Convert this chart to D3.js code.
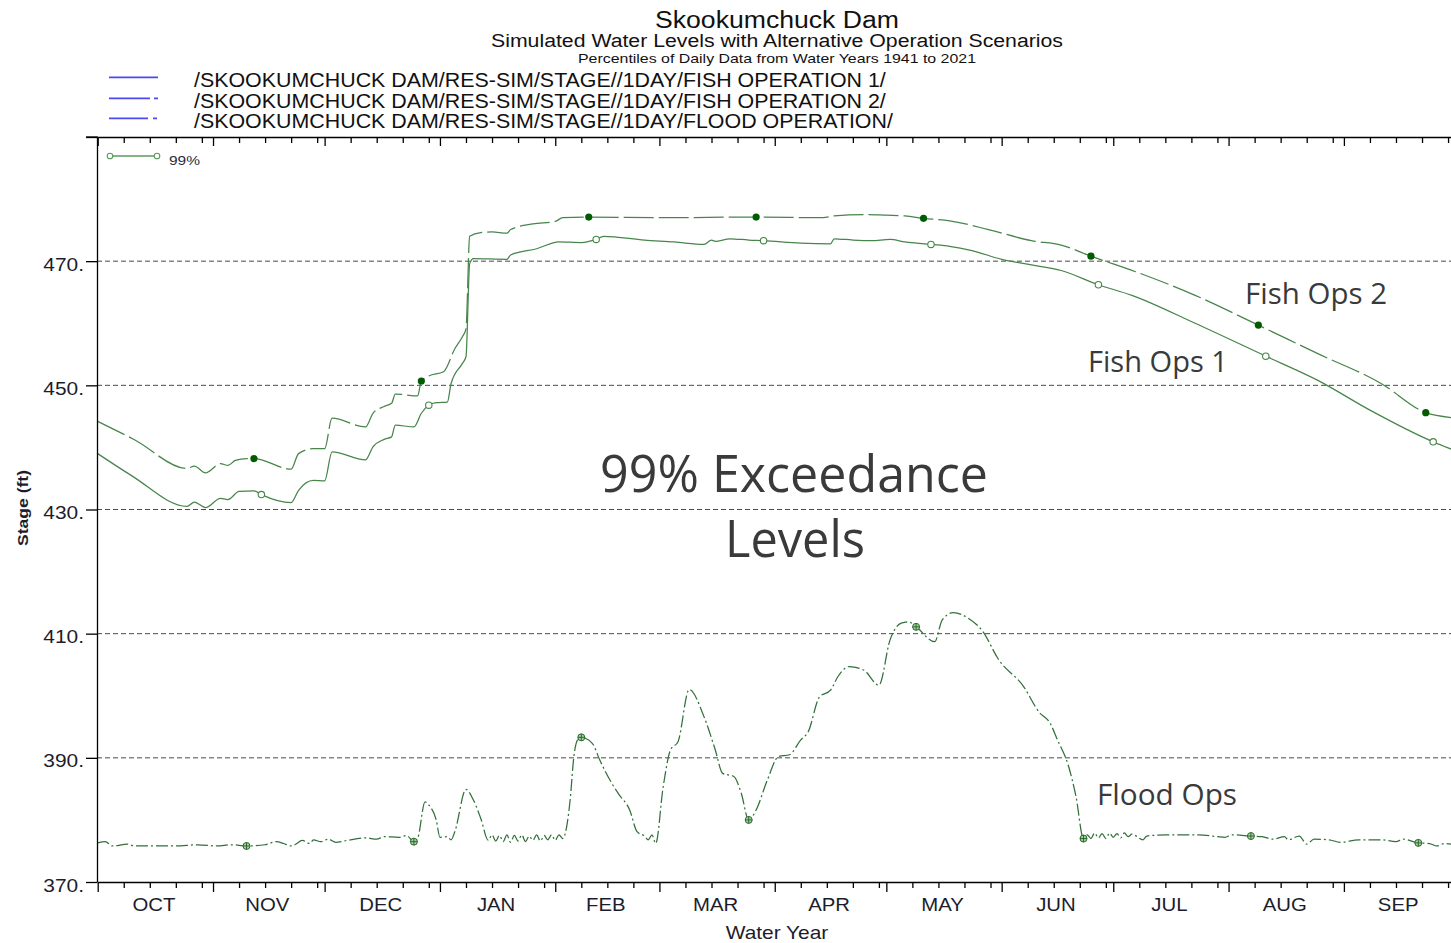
<!DOCTYPE html>
<html>
<head>
<meta charset="utf-8">
<script src="https://cdn.jsdelivr.net/npm/d3@7"></script>
<style>
  html, body { margin: 0; padding: 0; background: #fff; }
  svg { display: block; }
</style>
</head>
<body>
<div id="chart"></div>
<script>
// ---- data (day of water year from Oct 1, stage in ft) ----
const monthLabels = ['OCT', 'NOV', 'DEC', 'JAN', 'FEB', 'MAR', 'APR', 'MAY', 'JUN', 'JUL', 'AUG', 'SEP'];
const monthStartDays = [0, 31, 61, 92, 123, 151, 182, 212, 243, 273, 304, 335, 365];
const yTicks = [370, 390, 410, 430, 450, 470, 490];
const gridValues = [390, 410, 430, 450, 470];

const legendLabels = [
  '/SKOOKUMCHUCK DAM/RES-SIM/STAGE//1DAY/FISH OPERATION 1/',
  '/SKOOKUMCHUCK DAM/RES-SIM/STAGE//1DAY/FISH OPERATION 2/',
  '/SKOOKUMCHUCK DAM/RES-SIM/STAGE//1DAY/FLOOD OPERATION/'
];

const fishOps1 = [[0,439.0],[9,435.5],[24,430.5],[26,431.2],[29,430.3],[33,431.8],[35,431.6],[38,432.9],[42,433.0],[44,432.4],[52,431.1],[54,433.1],[58,434.7],[61,434.6],[63,439.3],[72,438.0],[74,440.1],[77,441.3],[79,441.7],[80,443.6],[85,443.3],[87,445.5],[89,446.8],[91,447.2],[94,447.3],[95,450.3],[98,453.5],[99,454.6],[100,469.6],[101,470.4],[110,470.3],[111,471.0],[118,472.0],[124,473.1],[130,473.0],[134,473.5],[136,474.0],[147,473.4],[155,473.1],[163,472.7],[165,473.4],[166,473.2],[170,473.6],[175,473.4],[179,473.3],[189,472.9],[197,472.8],[198,473.6],[203,473.4],[208,473.3],[213,473.5],[217,473.1],[224,472.7],[229,472.4],[235,471.7],[243,470.3],[251,469.4],[259,468.5],[269,466.2],[278,464.5],[295,460.0],[314,454.7],[328,450.8],[342,446.0],[359,440.9],[364,439.7]];

const fishOps2 = [[0,444.2],[10,441.2],[24,436.6],[26,437.0],[29,435.9],[33,437.4],[35,437.1],[37,437.9],[40,438.2],[42,438.2],[52,436.5],[54,439.0],[58,439.8],[61,439.8],[63,444.7],[72,443.3],[74,445.5],[77,446.6],[79,447.1],[80,448.6],[86,448.3],[87,450.7],[89,451.5],[93,452.2],[96,455.9],[98,457.8],[99,459.1],[100,474.0],[103,474.6],[106,474.7],[110,474.5],[111,475.1],[117,476.0],[123,476.4],[125,477.0],[132,477.1],[151,477.0],[177,477.1],[195,477.0],[198,477.3],[206,477.5],[212,477.4],[217,477.3],[222,476.9],[229,476.5],[240,475.0],[251,473.3],[259,472.6],[267,470.8],[279,468.3],[295,464.5],[312,459.7],[328,455.1],[345,450.3],[357,445.6],[364,444.8]];

const floodOps = [[0,376.3],[2,376.5],[4,375.8],[8,376.1],[10,375.8],[21,375.8],[27,376.0],[32,375.8],[36,376.0],[40,375.8],[45,376.0],[48,376.5],[50,376.2],[52,375.8],[53,376.0],[55,376.7],[57,376.2],[58,376.8],[60,376.5],[62,376.9],[64,376.4],[67,376.7],[72,377.1],[75,376.9],[77,377.3],[81,377.2],[83,377.5],[85,376.5],[86,377.0],[88,382.9],[89,382.4],[91,380.0],[92,377.2],[94,377.3],[95,376.8],[96,378.1],[99,384.9],[101,383.2],[103,380.2],[105,376.7],[106,377.6],[107,376.6],[108,377.5],[109,376.5],[110,377.6],[111,376.4],[112,377.5],[113,376.6],[114,377.6],[115,376.5],[116,377.4],[117,376.7],[118,377.6],[119,376.6],[120,377.5],[121,376.8],[122,377.6],[123,376.7],[124,377.6],[125,377.0],[127,383.2],[128,390.2],[129,392.9],[130,393.3],[133,392.3],[135,389.6],[138,386.1],[140,384.2],[143,381.6],[145,378.1],[147,377.4],[148,376.8],[149,377.6],[150,376.2],[152,385.3],[154,391.3],[156,392.6],[159,401.0],[163,396.6],[166,391.3],[168,387.5],[171,387.0],[173,384.3],[175,380.0],[177,381.6],[180,386.4],[183,390.2],[186,390.5],[189,392.9],[191,394.2],[194,399.8],[197,400.9],[199,403.1],[202,404.7],[206,404.1],[210,401.7],[213,409.0],[216,411.7],[218,411.9],[220,411.1],[225,408.7],[227,412.2],[230,413.4],[234,412.5],[238,410.3],[242,406.0],[249,401.4],[253,397.4],[256,395.6],[258,392.9],[261,388.6],[263,383.7],[265,377.0],[266,377.6],[267,377.0],[268,377.9],[269,377.1],[270,377.8],[271,377.0],[272,377.9],[273,377.2],[274,377.8],[275,377.1],[276,377.9],[277,377.3],[278,377.7],[281,376.8],[282,377.4],[287,377.6],[296,377.6],[301,377.3],[303,377.2],[305,377.6],[310,377.4],[313,377.3],[316,376.9],[319,377.3],[320,376.8],[323,377.4],[325,376.1],[327,376.9],[331,376.8],[334,376.4],[339,376.8],[345,376.8],[349,376.5],[351,376.9],[355,376.3],[358,376.2],[360,375.8],[362,376.2],[364,376.1]];

const fish1MarkerDays = [44, 89, 134, 179, 224, 269, 314, 359];
const fish2MarkerDays = [42, 87, 132, 177, 222, 267, 312, 357];
const floodMarkerDays = [40, 85, 130, 175, 220, 265, 310, 355];

// ---- setup ----
const W = 1451, H = 943;
const font = '"Liberation Sans", Arial, sans-serif';
const noteFont = '"Open Sans", "Noto Sans", sans-serif';
const green = '#47854a';
const dark = '#005c00';
const blue = '#4a4af2';

const svg = d3.select('#chart').append('svg')
  .attr('width', W).attr('height', H)
  .style('background', '#fff');

const x = d3.scaleLinear().domain([0, 365]).range([97.7, 1455.5]);
const y = d3.scaleLinear().domain([370, 490]).range([882, 137]);

// stretch text horizontally (reference text is wider than Arial)
function stretch(sel, k) {
  sel.each(function () {
    const w = this.getComputedTextLength();
    this.setAttribute('textLength', w * k);
    this.setAttribute('lengthAdjust', 'spacingAndGlyphs');
  });
}
function fit(sel, w) {
  sel.attr('textLength', w).attr('lengthAdjust', 'spacingAndGlyphs');
}

// ---- titles ----
const titles = [
  { t: 'Skookumchuck Dam', size: 23, yb: 28, w: 244 },
  { t: 'Simulated Water Levels with Alternative Operation Scenarios', size: 18, yb: 47, w: 572 },
  { t: 'Percentiles of Daily Data from Water Years 1941 to 2021', size: 13, yb: 62.5, w: 398 }
];
titles.forEach(d => {
  svg.append('text')
    .attr('x', 777).attr('y', d.yb)
    .attr('text-anchor', 'middle')
    .attr('font-family', font).attr('font-size', d.size)
    .attr('fill', '#111')
    .text(d.t)
    .call(fit, d.w);
});

// ---- top legend ----
const legendDash = [null, '41,4,5,200', '39,5,4,200'];
const legY = [77.3, 98.3, 118.3];
legendLabels.forEach((lab, i) => {
  svg.append('line')
    .attr('x1', 109).attr('x2', 158)
    .attr('y1', legY[i]).attr('y2', legY[i])
    .attr('stroke', blue).attr('stroke-width', 1.8)
    .attr('stroke-dasharray', legendDash[i]);
  svg.append('text')
    .attr('x', 194).attr('y', legY[i] + 9.2)
    .attr('font-family', font).attr('font-size', 19.5)
    .attr('fill', '#111')
    .text(lab)
    .call(stretch, 1.097);
});

// ---- clip for plot ----
svg.append('clipPath').attr('id', 'plot')
  .append('rect').attr('x', 97).attr('y', 137).attr('width', W - 97).attr('height', 745);

// ---- gridlines ----
svg.append('g')
  .selectAll('line')
  .data(gridValues)
  .join('line')
  .attr('x1', 97).attr('x2', W)
  .attr('y1', d => y(d)).attr('y2', d => y(d))
  .attr('stroke', '#4a4a4a').attr('stroke-width', 1)
  .attr('stroke-dasharray', '5,3');

// ---- series ----
const line = d3.line()
  .x(d => x(d[0]))
  .y(d => y(d[1]))
  .curve(d3.curveMonotoneX);

const plot = svg.append('g').attr('clip-path', 'url(#plot)');

plot.append('path').datum(floodOps)
  .attr('d', line).attr('fill', 'none')
  .attr('stroke', '#32703a').attr('stroke-width', 1.25)
  .attr('stroke-dasharray', '12,3,2,3');

plot.append('path').datum(fishOps1)
  .attr('d', line).attr('fill', 'none')
  .attr('stroke', green).attr('stroke-width', 1.25);

plot.append('path').datum(fishOps2)
  .attr('d', line).attr('fill', 'none')
  .attr('stroke', green).attr('stroke-width', 1.25)
  .attr('stroke-dasharray', '30,5');

const at = (series, day) => series.find(p => p[0] === day);

// markers
plot.append('g').selectAll('circle')
  .data(fish1MarkerDays.map(d => at(fishOps1, d)))
  .join('circle')
  .attr('cx', d => x(d[0])).attr('cy', d => y(d[1]))
  .attr('r', 3.2).attr('fill', '#fff')
  .attr('stroke', green).attr('stroke-width', 1.1);

plot.append('g').selectAll('circle')
  .data(fish2MarkerDays.map(d => at(fishOps2, d)))
  .join('circle')
  .attr('cx', d => x(d[0])).attr('cy', d => y(d[1]))
  .attr('r', 3.6).attr('fill', dark);

const fm = plot.append('g').selectAll('g')
  .data(floodMarkerDays.map(d => at(floodOps, d)))
  .join('g')
  .attr('transform', d => `translate(${x(d[0])},${y(d[1])})`);
fm.append('circle').attr('r', 3.5)
  .attr('fill', '#a9cfa9').attr('stroke', '#2a6a2a').attr('stroke-width', 1);
fm.append('path').attr('d', 'M-3.5,0H3.5M0,-3.5V3.5')
  .attr('stroke', '#2a6a2a').attr('stroke-width', 1);

// ---- axes ----
const minorDays = [];
monthStartDays.slice(0, -1).forEach((s, i) => {
  [7, 14, 21, 28].forEach(k => { if (s + k < monthStartDays[i + 1]) minorDays.push(s + k); });
});
const midDays = monthStartDays.slice(0, -1).map((s, i) => (s + monthStartDays[i + 1]) / 2);

function styleAxis(g) {
  g.selectAll('path, line').attr('stroke', '#000').attr('stroke-width', 1.3);
}

// bottom
svg.append('g').attr('transform', 'translate(0,882)')
  .call(d3.axisBottom(x).tickValues(monthStartDays).tickSize(10).tickSizeOuter(0).tickFormat(''))
  .call(styleAxis);
svg.append('g').attr('transform', 'translate(0,882)')
  .call(d3.axisBottom(x).tickValues(minorDays).tickSize(6).tickSizeOuter(0).tickFormat(''))
  .call(styleAxis)
  .call(g => g.select('.domain').remove());
const monthAxis = svg.append('g').attr('transform', 'translate(0,882)')
  .call(d3.axisBottom(x).tickValues(midDays).tickSize(0)
    .tickFormat((d, i) => monthLabels[i]));
monthAxis.select('.domain').remove();
monthAxis.selectAll('text')
  .attr('x', -2)
  .attr('y', 29).attr('dy', 0)
  .attr('font-family', font).attr('font-size', 18)
  .attr('fill', '#1c1c2c')
  .call(stretch, 1.13);

// top
svg.append('g').attr('transform', 'translate(0,137)')
  .call(d3.axisBottom(x).tickValues(monthStartDays).tickSize(9).tickSizeOuter(0).tickFormat(''))
  .call(styleAxis);
svg.append('g').attr('transform', 'translate(0,137)')
  .call(d3.axisBottom(x).tickValues(minorDays).tickSize(6).tickSizeOuter(0).tickFormat(''))
  .call(styleAxis)
  .call(g => g.select('.domain').remove());

// frame extension to the left of the y axis
svg.append('line').attr('x1', 86).attr('x2', 98).attr('y1', 137).attr('y2', 137)
  .attr('stroke', '#000').attr('stroke-width', 1.3);

// left
const yAxis = svg.append('g').attr('transform', 'translate(97,0)')
  .call(d3.axisLeft(y).tickValues(yTicks).tickSize(11).tickPadding(2).tickSizeOuter(0)
    .tickFormat(d => d === 490 ? '' : d + '.'))
  .call(styleAxis);
yAxis.selectAll('text')
  .attr('dy', '0.48em')
  .attr('font-family', font).attr('font-size', 19)
  .attr('fill', '#1c1c2c')
  .call(stretch, 1.1);

// axis titles
svg.append('text')
  .attr('x', 777).attr('y', 939)
  .attr('text-anchor', 'middle')
  .attr('font-family', font).attr('font-size', 18.5)
  .attr('fill', '#1c1c2c')
  .text('Water Year')
  .call(stretch, 1.13);

svg.append('text')
  .attr('transform', 'translate(28,508) rotate(-90)')
  .attr('text-anchor', 'middle')
  .attr('font-family', font).attr('font-size', 15).attr('font-weight', 'bold')
  .attr('fill', '#1c1c2c')
  .text('Stage (ft)')
  .call(fit, 76);

// ---- inner legend (99%) ----
svg.append('line')
  .attr('x1', 110).attr('x2', 157).attr('y1', 156).attr('y2', 156)
  .attr('stroke', '#5a9a5a').attr('stroke-width', 1.3);
svg.append('g').selectAll('circle')
  .data([110, 157])
  .join('circle')
  .attr('cx', d => d).attr('cy', 156).attr('r', 2.8)
  .attr('fill', '#fff').attr('stroke', '#5a9a5a').attr('stroke-width', 1.1);
svg.append('text')
  .attr('x', 169).attr('y', 165)
  .attr('font-family', font).attr('font-size', 12.5)
  .attr('fill', '#2a2a3a')
  .text('99%')
  .call(fit, 31);

// ---- annotations ----
const notes = [
  { t: '99% Exceedance', x: 600, y: 492, size: 52, w: 388 },
  { t: 'Levels', x: 725, y: 557, size: 52, w: 140 },
  { t: 'Fish Ops 2', x: 1245, y: 303.5, size: 30, w: 142 },
  { t: 'Fish Ops 1', x: 1088, y: 372, size: 30, w: 140 },
  { t: 'Flood Ops', x: 1097, y: 804.5, size: 30, w: 140 }
];
svg.append('g').selectAll('text')
  .data(notes)
  .join('text')
  .attr('x', d => d.x).attr('y', d => d.y)
  .attr('font-family', noteFont)
  .attr('font-size', d => d.size)
  .attr('fill', '#3a3a3a')
  .attr('textLength', d => d.w)
  .attr('lengthAdjust', 'spacingAndGlyphs')
  .text(d => d.t);
</script>
</body>
</html>
